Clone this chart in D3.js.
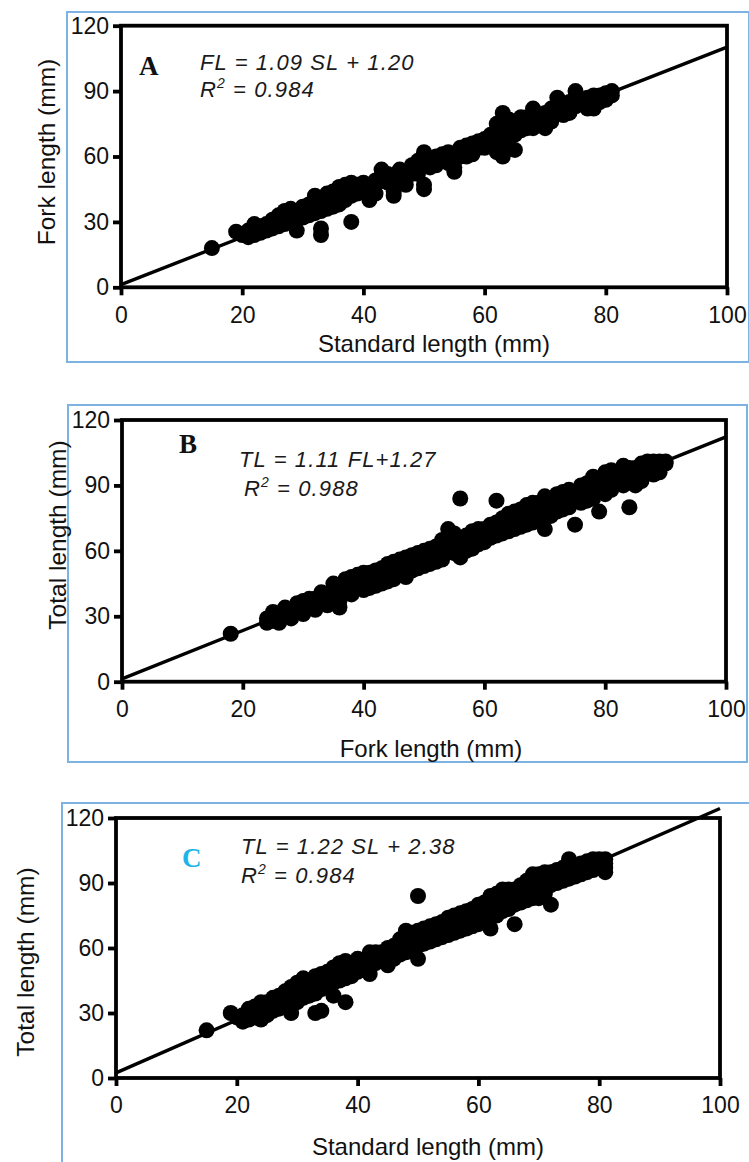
<!DOCTYPE html>
<html>
<head>
<meta charset="utf-8">
<script src="https://cdn.jsdelivr.net/npm/d3@7/dist/d3.min.js"></script>
<style>
  html, body { margin: 0; padding: 0; background: #fff; }
  svg { display: block; }
  .tick text { font-family: "Liberation Sans", Arial, sans-serif; font-size: 23px; fill: #111; }
</style>
</head>
<body>
<svg id="chart" width="749" height="1162"></svg>
<script>
// ---------------- DATA ----------------
const xTicks = [0, 20, 40, 60, 80, 100];
const yTicks = [0, 30, 60, 90, 120];

const panelLetters = ["A", "B", "C"];
const xTitles = ["Standard length (mm)", "Fork length (mm)", "Standard length (mm)"];
const yTitles = ["Fork length (mm)", "Total length (mm)", "Total length (mm)"];
const eqLines = ["FL = 1.09 SL + 1.20", "TL = 1.11 FL+1.27", "TL = 1.22 SL + 2.38"];
const r2Values = ["0.984", "0.988", "0.984"];
const slopes = [1.09, 1.11, 1.22];
const intercepts = [1.20, 1.27, 2.38];

// Panel A: [standard length, fork length]
const pointsA = [[15,18],[19,25.5],[20,24],[21,23],[21,26],[22,24],[22,27],[23,25],[23,28],[24,26],[24,29],[25,27],[25,30],[26,28],[26,31],[26,33],[27,29],[27,32],[27,35],[28,30],[28,33],[28,36],[29,26],[29,31],[29,34],[30,32],[30,35],[30,37],[31,33],[31,36],[32,34],[32,38],[32,42],[33,24],[33,27],[33,35],[33,40],[34,36],[34,39],[34,43],[35,37],[35,40],[35,44],[36,38],[36,42],[36,46],[37,40],[37,44],[37,47],[38,30],[38,42],[38,46],[38,48],[39,43],[39,47],[40,44],[40,48],[41,40],[41,45],[42,43],[42,47],[43,49],[43,54],[44,48],[44,52],[45,42],[45,44],[45,50],[46,51],[46,54],[47,47],[47,53],[48,52],[48,56],[49,54],[49,58],[50,45],[50,47],[50,56],[50,62],[51,57],[52,56],[52,60],[53,58],[54,59],[54,62],[55,53],[55,55],[55,61],[56,60],[56,64],[57,62],[58,63],[58,66],[59,64],[60,66],[60,68],[61,65],[61,70],[62,62],[62,68],[62,75],[63,60],[63,65],[63,70],[63,80],[64,72],[64,77],[65,63],[65,70],[65,75],[66,72],[66,78],[67,73],[67,76],[68,75],[68,82],[69,76],[69,79],[70,73],[70,76],[70,80],[71,78],[71,82],[72,80],[72,87],[73,79],[73,83],[74,82],[74,85],[75,83],[75,90],[76,84],[77,84],[77,87],[78,82],[78,86],[78,88],[79,85],[79,88],[80,87],[80,89],[81,88],[81,90],
  [22,29],[23,26],[24,28],[25,31],[26,30],[27,33],[28,34],[29,33],[30,34],[31,38],[32,37],[33,38],[34,41],[35,42],[36,44],[37,42],[38,44],[39,45],[40,46],[41,47],[42,49],[43,51],[44,50],[45,48],[46,49],[47,51],[48,54],[49,52],[51,55],[51,59],[52,58],[53,61],[54,57],[55,58],[56,62],[57,60],[57,65],[58,61],[59,67],[60,64],[61,67],[62,72],[63,74],[64,68],[64,75],[65,72],[66,74],[66,76],[67,78],[68,73],[69,78],[70,78],[71,76],[72,83],[73,81],[74,80],[75,85],[76,86],[77,82],[79,87],[80,86]];

// Panel B: [fork length, total length]
const pointsB = [[18,22],[24,27],[24,29],[25,28],[25,30],[26,29],[26,31],[27,30],[27,32],[28,31],[28,33],[29,32],[29,34],[30,33],[30,35],[30,37],[31,34],[31,36],[32,35],[32,38],[33,36],[33,39],[34,37],[34,40],[35,38],[35,41],[35,43],[36,34],[36,40],[36,44],[37,41],[37,45],[38,42],[38,46],[39,43],[39,47],[40,44],[40,47],[41,45],[41,48],[42,46],[42,49],[43,47],[43,50],[44,48],[44,52],[45,50],[45,53],[46,51],[46,54],[47,48],[47,53],[47,57],[48,53],[48,56],[49,54],[49,57],[50,55],[50,58],[51,56],[51,59],[52,57],[52,60],[53,58],[53,63],[54,60],[54,66],[54,70],[55,59],[55,65],[56,57],[56,62],[56,84],[57,63],[57,67],[58,61],[58,66],[59,65],[59,68],[60,66],[60,70],[61,68],[61,72],[62,69],[62,83],[63,70],[63,73],[64,71],[64,75],[65,72],[65,76],[66,73],[66,77],[67,74],[67,79],[68,75],[68,80],[69,76],[69,82],[70,70],[70,78],[70,85],[71,79],[71,83],[72,80],[72,84],[73,81],[73,85],[74,82],[74,86],[75,72],[75,83],[75,87],[76,84],[76,88],[77,85],[77,89],[78,86],[78,91],[79,78],[79,88],[79,93],[80,89],[80,94],[81,90],[81,95],[82,91],[82,96],[83,92],[83,97],[84,80],[84,93],[84,98],[85,90],[85,95],[86,94],[86,100],[87,96],[87,101],[88,97],[88,101],[89,98],[89,101],[90,100],
  [25,32],[26,27],[27,34],[28,29],[29,36],[30,31],[31,38],[32,33],[33,41],[34,35],[35,45],[36,37],[37,43],[37,47],[38,40],[38,48],[39,45],[39,49],[40,42],[40,50],[41,43],[41,50],[42,44],[42,51],[43,45],[43,52],[44,46],[44,54],[45,47],[45,55],[46,49],[46,56],[48,51],[48,58],[49,52],[49,59],[50,53],[50,60],[51,54],[51,61],[52,55],[52,62],[53,56],[53,65],[55,62],[55,68],[57,60],[57,65],[58,64],[58,69],[59,63],[59,70],[60,64],[60,68],[61,66],[61,70],[62,67],[62,73],[63,68],[63,75],[64,69],[64,77],[65,70],[65,78],[66,71],[66,79],[67,72],[67,81],[68,73],[68,82],[69,74],[69,80],[71,76],[71,81],[72,78],[72,86],[73,79],[73,87],[74,80],[74,88],[76,82],[76,90],[77,83],[77,91],[78,84],[78,94],[80,86],[80,96],[81,88],[81,97],[82,93],[83,90],[83,99],[85,93],[85,98],[86,92],[86,97],[87,99],[88,95],[89,96],[90,101]];

// Panel C: [standard length, total length]
const pointsC = [[15,22],[19,30],[20,28],[21,26],[21,29],[22,27],[22,30],[23,28],[23,31],[24,27],[24,30],[24,33],[25,29],[25,32],[25,35],[26,31],[26,34],[26,37],[27,32],[27,35],[27,38],[28,34],[28,37],[28,40],[29,30],[29,36],[29,39],[29,42],[30,35],[30,38],[30,41],[30,44],[31,37],[31,40],[31,46],[32,38],[32,42],[32,45],[33,30],[33,39],[33,43],[33,47],[34,31],[34,41],[34,45],[34,48],[35,42],[35,46],[35,49],[36,38],[36,44],[36,48],[36,51],[37,45],[37,49],[37,53],[38,35],[38,46],[38,50],[38,54],[39,47],[39,52],[40,49],[40,53],[40,55],[41,50],[41,54],[42,48],[42,52],[42,58],[43,53],[43,56],[44,54],[44,58],[45,52],[45,56],[45,60],[46,55],[46,59],[47,57],[47,62],[48,58],[48,63],[48,68],[49,59],[49,65],[50,55],[50,61],[50,68],[50,84],[51,62],[51,67],[52,63],[52,68],[53,64],[53,69],[54,65],[54,70],[55,66],[55,72],[56,67],[56,73],[57,68],[57,74],[58,69],[58,75],[59,70],[59,76],[60,71],[60,77],[60,80],[61,72],[61,78],[62,69],[62,74],[62,82],[63,75],[63,80],[64,77],[64,85],[65,78],[65,84],[66,71],[66,80],[66,87],[67,81],[67,86],[68,82],[68,88],[69,83],[69,91],[70,83],[70,88],[70,94],[71,85],[71,93],[72,80],[72,89],[72,95],[73,90],[73,96],[74,91],[74,97],[75,92],[75,101],[76,93],[76,98],[77,94],[77,99],[78,95],[78,100],[79,96],[79,101],[80,97],[80,101],[81,95],[81,99],[81,101],
  [22,32],[23,33],[24,35],[25,34],[26,36],[27,36],[28,38],[29,38],[30,40],[31,42],[32,44],[33,45],[34,43],[35,47],[36,46],[37,47],[38,52],[39,50],[40,51],[41,52],[42,55],[43,58],[44,56],[45,58],[46,57],[46,61],[47,59],[47,64],[48,61],[49,62],[49,67],[51,64],[51,69],[52,65],[52,70],[53,66],[53,71],[54,67],[54,72],[55,68],[55,74],[56,69],[56,75],[57,70],[57,76],[58,71],[58,77],[59,72],[59,78],[60,73],[61,75],[61,81],[62,77],[62,84],[63,78],[63,85],[64,80],[64,87],[65,81],[65,87],[66,83],[67,83],[67,89],[68,85],[68,91],[69,86],[69,94],[70,86],[70,91],[71,88],[71,95],[72,92],[73,93],[74,94],[75,95],[76,96],[77,97],[78,98],[79,98],[80,99],[81,97]];

const allPoints = [pointsA, pointsB, pointsC];

// ---------------- LAYOUT ----------------
const layout = [
  { box: [67, 12, 682, 350], px: [121, 727], py: [287.3, 25.7],
    letter: [139, 75, "#111"], eq: [200, 70, 200, 97],
    xt: [434, 352], yt: [55, 152] },
  { box: [68, 405, 679, 357], px: [122, 726], py: [681.7, 420],
    letter: [179, 453, "#111"], eq: [239, 467, 244, 496],
    xt: [431, 757], yt: [66, 535] },
  { box: [62, 803, 700, 400], px: [116, 720], py: [1078, 818],
    letter: [182, 867, "#1db4ea"], eq: [241, 854, 241, 883],
    xt: [428, 1155], yt: [34, 962] }
];

const svg = d3.select("#chart");
const sans = '"Liberation Sans", Arial, Helvetica, sans-serif';

layout.forEach((L, i) => {
  const g = svg.append("g");
  const x = d3.scaleLinear().domain([0, 100]).range(L.px);
  const y = d3.scaleLinear().domain([0, 120]).range(L.py);

  // blue outer frame
  g.append("rect")
    .attr("x", L.box[0]).attr("y", L.box[1])
    .attr("width", L.box[2]).attr("height", L.box[3])
    .attr("fill", "none").attr("stroke", "#7db3e3").attr("stroke-width", 2);

  // points
  g.append("g").selectAll("circle").data(allPoints[i]).join("circle")
    .attr("cx", d => x(d[0])).attr("cy", d => y(d[1]))
    .attr("r", 8).attr("fill", "#000");

  // regression line
  const lineData = [0, 100].map(v => [v, slopes[i] * v + intercepts[i]]);
  g.append("path").datum(lineData)
    .attr("d", d3.line().x(d => x(d[0])).y(d => y(d[1])))
    .attr("fill", "none").attr("stroke", "#000").attr("stroke-width", 3.4);

  // plot frame
  g.append("rect")
    .attr("x", x(0)).attr("y", y(120))
    .attr("width", x(100) - x(0)).attr("height", y(0) - y(120))
    .attr("fill", "none").attr("stroke", "#000").attr("stroke-width", 3.8);

  // axes
  const ax = g.append("g").attr("transform", `translate(0,${y(0)})`)
    .call(d3.axisBottom(x).tickValues(xTicks).tickSize(8).tickPadding(11).tickFormat(d3.format("d")));
  const ay = g.append("g").attr("transform", `translate(${x(0)},0)`)
    .call(d3.axisLeft(y).tickValues(yTicks).tickSize(8).tickPadding(4).tickFormat(d3.format("d")));
  [ax, ay].forEach(a => {
    a.select(".domain").remove();
    a.selectAll(".tick line").attr("stroke", "#000").attr("stroke-width", 3.8);
  });

  // panel letter
  g.append("text").attr("x", L.letter[0]).attr("y", L.letter[1])
    .attr("font-family", '"Liberation Serif", "Times New Roman", serif')
    .attr("font-weight", "bold").attr("font-size", 27)
    .attr("fill", L.letter[2]).text(panelLetters[i]);

  // equation
  g.append("text").attr("x", L.eq[0]).attr("y", L.eq[1])
    .attr("font-family", sans).attr("font-style", "italic")
    .attr("font-size", 22).attr("letter-spacing", 1.1).attr("fill", "#1a1a1a")
    .text(eqLines[i]);
  const r2 = g.append("text").attr("x", L.eq[2]).attr("y", L.eq[3])
    .attr("font-family", sans).attr("font-style", "italic")
    .attr("font-size", 22).attr("letter-spacing", 1.1).attr("fill", "#1a1a1a");
  r2.append("tspan").text("R");
  r2.append("tspan").attr("dy", -9).attr("font-size", 14).text("2");
  r2.append("tspan").attr("dy", 9).text(" = " + r2Values[i]);

  // axis titles
  g.append("text").attr("x", L.xt[0]).attr("y", L.xt[1])
    .attr("text-anchor", "middle").attr("font-family", sans)
    .attr("font-size", 24).attr("fill", "#111").text(xTitles[i]);
  g.append("text")
    .attr("transform", `translate(${L.yt[0]},${L.yt[1]}) rotate(-90)`)
    .attr("text-anchor", "middle").attr("font-family", sans)
    .attr("font-size", 24.5).attr("fill", "#111").text(yTitles[i]);
});
</script>
</body>
</html>
